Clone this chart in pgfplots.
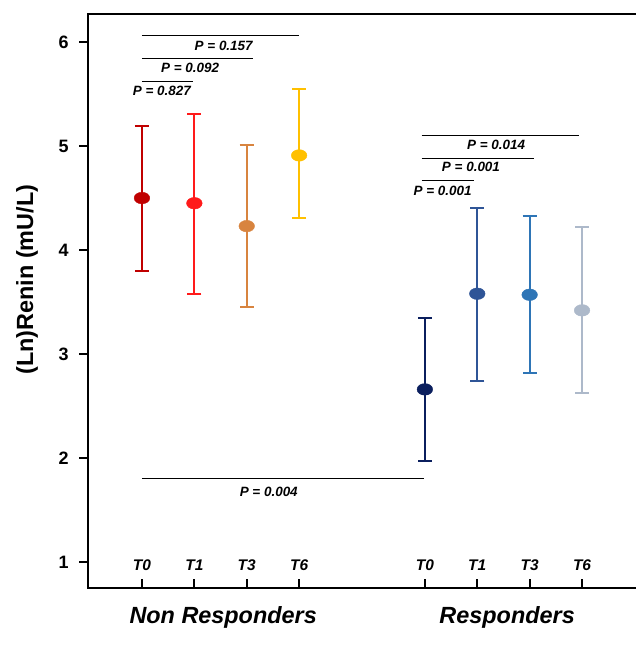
\documentclass[border=0pt]{standalone}
\usepackage{pgfplots}
\pgfplotsset{compat=1.18}
\usepackage{fontspec}
\setmainfont{Liberation Sans}

\definecolor{nr0}{HTML}{C00000}
\definecolor{nr1}{HTML}{FF1A1A}
\definecolor{nr3}{HTML}{D8843F}
\definecolor{nr6}{HTML}{FFC000}
\definecolor{r0}{HTML}{0B1F5E}
\definecolor{r1}{HTML}{2F5597}
\definecolor{r3}{HTML}{2E75B6}
\definecolor{r6}{HTML}{ADB9CA}

\pgfplotsset{
  pt/.style={color=#1, solid, only marks, mark=*, mark size=5.8bp,
    mark options={xscale=1.35, fill=#1, draw=#1, solid},
    error bars/.cd, y dir=both, y explicit,
    error bar style={line width=2bp, color=#1, solid},
    error mark options={rotate=90, mark size=7bp, line width=2bp, color=#1, solid}},
}

\begin{document}
\begin{tikzpicture}
\begin{axis}[
  scale only axis,
  width=548bp, height=574bp,
  xmin=-0.03, xmax=10.43,
  ymin=0.75, ymax=6.27,
  clip=false,
  axis line style={draw=none},
  xtick={1,2,3,4,6.4,7.4,8.4,9.4},
  xticklabels={T0,T1,T3,T6,T0,T1,T3,T6},
  xtick pos=lower, xtick align=inside,
  ytick={1,2,3,4,5,6},
  ytick pos=left, ytick align=outside,
  major tick length=9bp,
  every tick/.style={black, line width=2.2bp},
  xticklabel style={anchor=south, yshift=17bp, inner sep=0pt,
    font=\fontsize{15.5}{17}\selectfont\bfseries\itshape},
  yticklabel style={font=\fontsize{18}{20}\selectfont\bfseries, xshift=-7bp},
  /pgf/number format/assume math mode=true,
  ylabel={(Ln)Renin (mU/L)},
  every axis y label/.style={at={(axis description cs:-0.111,0.537)}, anchor=center, rotate=90,
    font=\fontsize{23.5}{26}\selectfont\bfseries},
]

\addplot[pt=nr0] coordinates {(1,4.50) +=(0,0.69) -=(0,0.70)};
\addplot[pt=nr1] coordinates {(2,4.45) +=(0,0.86) -=(0,0.87)};
\addplot[pt=nr3] coordinates {(3,4.23) +=(0,0.78) -=(0,0.78)};
\addplot[pt=nr6] coordinates {(4,4.91) +=(0,0.64) -=(0,0.60)};
\addplot[pt=r0] coordinates {(6.4,2.66) +=(0,0.69) -=(0,0.69)};
\addplot[pt=r1] coordinates {(7.4,3.58) +=(0,0.82) -=(0,0.84)};
\addplot[pt=r3] coordinates {(8.4,3.57) +=(0,0.76) -=(0,0.75)};
\addplot[pt=r6] coordinates {(9.4,3.42) +=(0,0.80) -=(0,0.79)};

% axis frame (open on the right)
\draw[line width=2.4bp] (rel axis cs:1,1) -- (rel axis cs:0,1) -- (rel axis cs:0,0) -- (rel axis cs:1,0);
\coordinate (ll) at (rel axis cs:0,0);
\coordinate (ur) at (rel axis cs:1,1);

% significance lines
\begin{scope}[line width=1.1bp, black]
\draw (axis cs:1,6.06) -- (axis cs:4.0,6.06);
\draw (axis cs:1,5.84) -- (axis cs:3.12,5.84);
\draw (axis cs:1,5.62) -- (axis cs:1.97,5.62);
\draw (axis cs:6.34,5.10) -- (axis cs:9.34,5.10);
\draw (axis cs:6.34,4.88) -- (axis cs:8.48,4.88);
\draw (axis cs:6.34,4.67) -- (axis cs:7.34,4.67);
\draw (axis cs:1,1.80) -- (axis cs:6.38,1.80);
\end{scope}
\begin{scope}[font=\fontsize{13.5}{15}\selectfont\bfseries\itshape, inner sep=0pt]
\node at (axis cs:2.56,5.96) {P = 0.157};
\node at (axis cs:1.92,5.75) {P = 0.092};
\node at (axis cs:1.38,5.53) {P = 0.827};
\node at (axis cs:7.76,5.01) {P = 0.014};
\node at (axis cs:7.28,4.80) {P = 0.001};
\node at (axis cs:6.74,4.57) {P = 0.001};
\node at (axis cs:3.42,1.67) {P = 0.004};
\end{scope}

% group labels
\node[font=\fontsize{23.5}{26}\selectfont\bfseries\itshape] at (axis cs:2.55,0.47) {Non Responders};
\node[font=\fontsize{23.5}{26}\selectfont\bfseries\itshape] at (axis cs:7.97,0.47) {Responders};
\end{axis}
\pgfresetboundingbox
\path ([shift={(-88bp,-60bp)}]ll) rectangle ([shift={(0bp,14bp)}]ur);
\end{tikzpicture}
\end{document}
